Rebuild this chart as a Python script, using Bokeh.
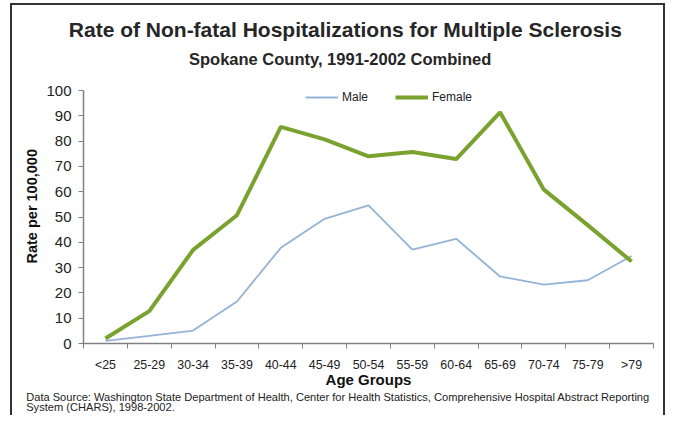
from bokeh.plotting import figure
from bokeh.models import (ColumnDataSource, FixedTicker, Legend, LegendItem, Range1d, Title)
from bokeh.embed import file_html
from bokeh.resources import INLINE

age_groups = ["<25", "25-29", "30-34", "35-39", "40-44", "45-49", "50-54",
              "55-59", "60-64", "65-69", "70-74", "75-79", ">79"]
male = [1.0, 3.0, 5.1, 16.6, 37.8, 49.3, 54.6, 37.1, 41.4, 26.5, 23.3, 25.0, 34.6]
female = [2.0, 12.8, 37.0, 50.7, 85.6, 80.7, 74.0, 75.7, 72.9, 91.4, 60.8, 46.8, 32.4]
y_ticks = [0, 10, 20, 30, 40, 50, 60, 70, 80, 90, 100]

title_text = "Rate of Non-fatal Hospitalizations for Multiple Sclerosis"
subtitle_text = "Spokane County, 1991-2002 Combined"
y_title = "Rate per 100,000"
x_title = "Age Groups"
source_text = ("Data Source: Washington State Department of Health, Center for Health "
               "Statistics, Comprehensive Hospital Abstract Reporting\n"
               "System (CHARS), 1998-2002.")

xpos = [i + 0.5 for i in range(len(age_groups))]
src = ColumnDataSource(dict(x=xpos, male=male, female=female))

FONT = "Liberation Sans"
W, H = 665, 415
FL, FR, FT, FB = 83, 653, 90, 345   # frame edges in page pixels

p = figure(width=W, height=H, output_backend="svg", toolbar_location=None,
           x_range=Range1d(0, len(age_groups)), y_range=Range1d(0, 100),
           min_border_left=FL, min_border_right=W - FR, min_border_top=FT,
           min_border_bottom=H - FB)
p.xgrid.visible = False
p.ygrid.visible = False
p.outline_line_color = None
p.background_fill_color = "white"
p.border_fill_alpha = 0
p.title.visible = False

# outer frame of the chart (css background lines behind the transparent canvas border)
line = "linear-gradient(#333333,#333333)"
p.styles = {
    "background": (f"{line} 10px 3px / 2px 440px no-repeat, "
                   f"{line} 10px 3px / 655px 2px no-repeat, "
                   f"{line} 663px 3px / 2px 440px no-repeat, #ffffff"),
}

r_m = p.line("x", "male", source=src, line_color="#95b3d7", line_width=1.8)
r_f = p.line("x", "female", source=src, line_color="#79a22e", line_width=4)

# x axis
xa = p.xaxis[0]
xa.ticker = FixedTicker(ticks=xpos, minor_ticks=list(range(len(age_groups) + 1)))
xa.major_label_overrides = {x: lab for x, lab in zip(xpos, age_groups)}
xa.major_tick_out = 0
xa.major_tick_in = 0
xa.minor_tick_out = 5
xa.minor_tick_in = 0
xa.axis_line_color = "#808080"
xa.axis_line_width = 1.5
xa.minor_tick_line_color = "#808080"
xa.major_label_text_font = FONT
xa.major_label_text_font_size = "12.4px"
xa.major_label_text_color = "#222222"
xa.major_label_standoff = 9
xa.axis_label = x_title
xa.axis_label_text_font = FONT
xa.axis_label_text_font_size = "15px"
xa.axis_label_text_font_style = "bold"
xa.axis_label_text_color = "#111111"
xa.axis_label_standoff = -4

# y axis
ya = p.yaxis[0]
ya.ticker = FixedTicker(ticks=y_ticks)
ya.major_tick_out = 5
ya.major_tick_in = 0
ya.minor_tick_line_color = None
ya.axis_line_color = "#808080"
ya.axis_line_width = 1.5
ya.major_tick_line_color = "#808080"
ya.major_label_text_font = FONT
ya.major_label_text_font_size = "15px"
ya.major_label_text_color = "#222222"
ya.major_label_standoff = 7

# y axis title as a left-side title (lets it sit slightly above the frame centre)
p.add_layout(Title(text=y_title, text_font=FONT, text_font_size="14.5px",
                   text_font_style="bold", text_color="#111111",
                   align="left", offset=FB - 265, standoff=6,
                   vertical_align="middle"), "left")

legend = Legend(items=[LegendItem(label="Male", renderers=[r_m]),
                       LegendItem(label="Female", renderers=[r_f])],
                orientation="horizontal", location=(305 - FL, FB - 99 - 7),
                border_line_color=None, background_fill_alpha=0,
                label_text_font=FONT, label_text_font_size="12px",
                label_text_color="#222222", glyph_width=33, glyph_height=14,
                label_height=14, label_width=10, spacing=27,
                margin=0, padding=0, label_standoff=4)
p.add_layout(legend)

# titles above the plot: spacer (closest to the frame), subtitle, main title
p.add_layout(Title(text=" ", text_font=FONT, text_font_size="19px",
                   standoff=0, align="left"), "above")
p.add_layout(Title(text=subtitle_text, text_font=FONT, text_font_size="16.5px",
                   text_font_style="bold", text_color="#262626",
                   align="left", offset=188.5 - FL, standoff=0,
                   vertical_align="bottom"), "above")
p.add_layout(Title(text=title_text, text_font=FONT, text_font_size="21px",
                   text_font_style="bold", text_color="#262626",
                   align="left", offset=68.3 - FL, standoff=14,
                   vertical_align="bottom"), "above")

# source note below the axis
p.add_layout(Title(text=source_text, text_font=FONT, text_font_size="11.1px",
                   text_font_style="normal", text_color="#222222",
                   text_line_height=0.88,
                   align="left", offset=25.7 - FL, standoff=0,
                   vertical_align="top"), "below")

open("out.html", "w").write(file_html(p, INLINE))
